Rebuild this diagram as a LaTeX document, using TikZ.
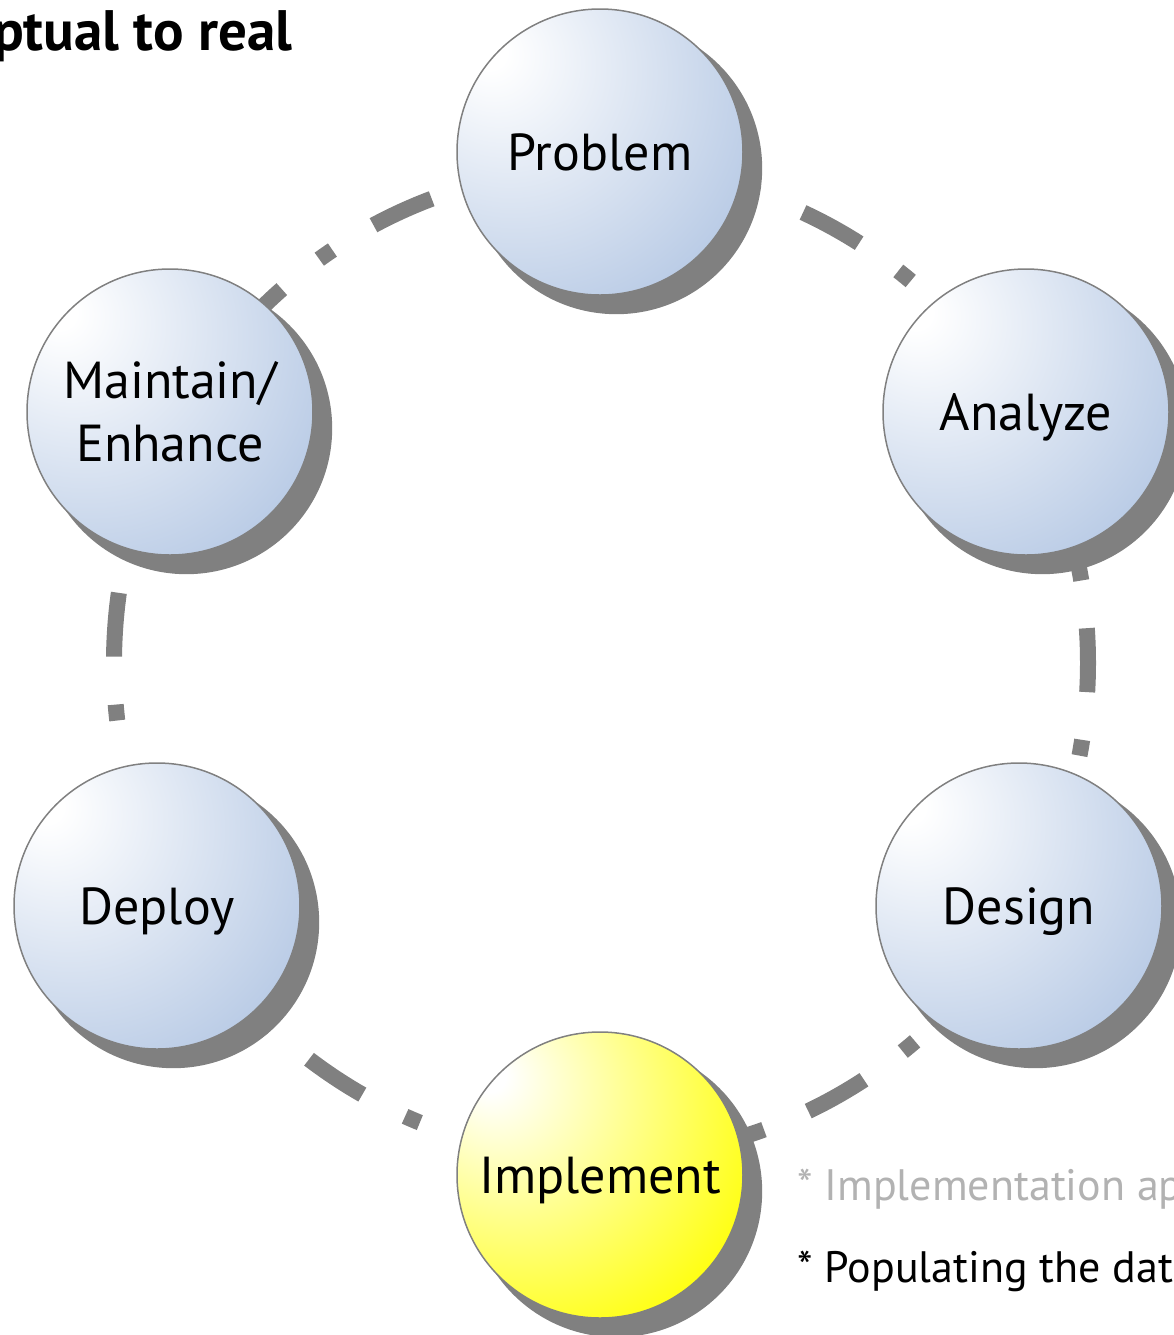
\documentclass[tikz,border=0pt]{standalone}
\usepackage{fontspec}
\setmainfont{PT Sans}
\usepackage{tikz}
\usetikzlibrary{shadows}

\definecolor{bubblue}{RGB}{181,200,228}
\definecolor{ringgray}{RGB}{128,128,128}
\definecolor{notegray}{RGB}{178,178,178}
\pgfdeclareradialshading{blueball}{\pgfpoint{-20bp}{18bp}}{color(0bp)=(white); color(3bp)=(white); color(44bp)=(bubblue); color(100bp)=(bubblue)}
\pgfdeclareradialshading{yellowball}{\pgfpoint{-20bp}{18bp}}{color(0bp)=(white); color(3bp)=(white); color(44bp)=(yellow); color(100bp)=(yellow)}

\begin{document}
\begin{tikzpicture}[x=0.5pt, y=0.5pt]
		\tikzstyle{Phase} = [circle, minimum size=143pt, inner sep=0pt, align=center, draw=ringgray, line width=0.75pt, shading=blueball, text height=18pt, text depth=0pt, font=\fontsize{26}{31.5}\selectfont, drop shadow={shadow xshift=8pt, shadow yshift=-8pt, shadow scale=1.02, fill=ringgray, opacity=1}]
		\tikzstyle{Ring} = [line width=8pt, ringgray, dash pattern=on 32pt off 24pt on 8pt off 24pt, dash phase=1.5pt]
		\tikzstyle{Note} = [anchor=base west, inner sep=0pt, font=\fontsize{22}{28}\selectfont]
		
		\useasboundingbox (0,0) rectangle (1174,-1335);
		\clip (0,0) rectangle (1174,-1335);
		
		\node (title) [anchor=base east, inner sep=0pt, font=\fontsize{28.5}{32}\selectfont\bfseries] at (293,-50) {ptual to real};
		
		\coordinate (hub) at (601,-663);
		\draw [Ring] (hub) ++(0,495) arc [start angle=90, end angle=450, x radius=243.5pt, y radius=247.5pt];
		
		\node (prob) [Phase] at (600,-152) {Problem};
		\node (anal) [Phase] at (1026,-412) {Analyze};
		\node (desg) [Phase] at (1019,-906) {Design};
		\node (impl) [Phase, shading=yellowball] at (600,-1175) {Implement};
		\node (depl) [Phase] at (157,-906) {Deploy};
		\node (mant) [Phase, text height={}, text depth={}] at (170,-412) {Maintain/\\Enhance};
		
		\node (note1) [Note, text=notegray] at (797,-1200) {* Implementation ap};
		\node (note2) [Note] at (797,-1282) {* Populating the dat};
\end{tikzpicture}
\end{document}
